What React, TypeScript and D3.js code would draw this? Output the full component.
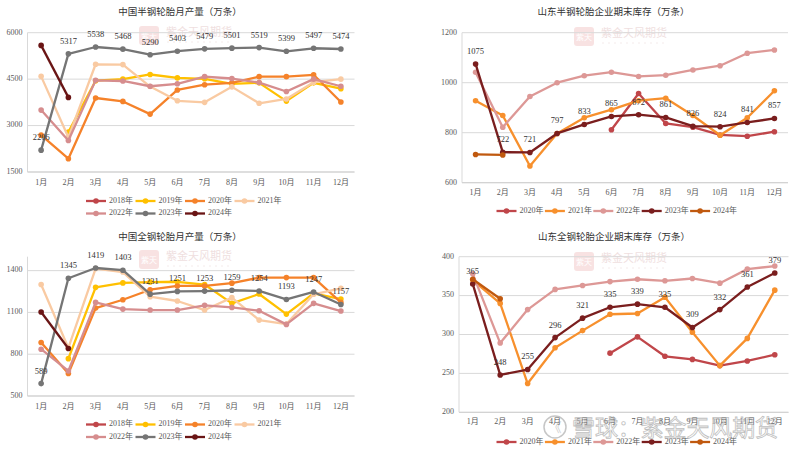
import React from 'react';
import * as d3 from 'd3';

const months = ['1月', '2月', '3月', '4月', '5月', '6月', '7月', '8月', '9月', '10月', '11月', '12月'];

// 中国半钢轮胎月产量
const semiProdYears = ['2018年', '2019年', '2020年', '2021年', '2022年', '2023年', '2024年'];
const semiProd2018: (number | null)[] = [null, null, null, null, null, null, null, null, null, null, null, null];
const semiProd2019: (number | null)[] = [null, 2790, 4450, 4500, 4650, 4540, 4510, 4350, 4380, 3790, 4380, 4190];
const semiProd2020: (number | null)[] = [2690, 1930, 3890, 3780, 3370, 4150, 4320, 4380, 4580, 4580, 4640, 3760];
const semiProd2021: (number | null)[] = [4590, 2620, 4980, 4970, 4260, 3800, 3750, 4250, 3720, 3860, 4400, 4500];
const semiProd2022: (number | null)[] = [3500, 2520, 4460, 4440, 4270, 4350, 4580, 4520, 4390, 4100, 4500, 4270];
const semiProd2023: (number | null)[] = [2206, 5317, 5538, 5468, 5290, 5403, 5479, 5501, 5519, 5399, 5497, 5474];
const semiProd2024: (number | null)[] = [5590, 3910, null, null, null, null, null, null, null, null, null, null];
const semiProdTicks = [1500, 3000, 4500, 6000];

// 山东半钢轮胎企业期末库存
const invYears = ['2020年', '2021年', '2022年', '2023年', '2024年'];
const semiInv2020: (number | null)[] = [null, null, null, null, null, 812, 957, 837, 822, 791, 786, 804];
const semiInv2021: (number | null)[] = [928, 869, 667, 797, 860, 892, 928, 938, 869, 790, 860, 968];
const semiInv2022: (number | null)[] = [1042, 822, 945, 1000, 1028, 1042, 1025, 1030, 1051, 1068, 1118, 1131];
const semiInv2023: (number | null)[] = [1075, 722, 721, 797, 833, 865, 872, 861, 826, 824, 841, 857];
const semiInv2024: (number | null)[] = [713, 711, null, null, null, null, null, null, null, null, null, null];
const semiInvTicks = [600, 800, 1000, 1200];

// 中国全钢轮胎月产量
const allProd2018: (number | null)[] = [null, null, null, null, null, null, null, null, null, null, null, null];
const allProd2019: (number | null)[] = [null, 768, 1280, 1312, 1318, 1320, 1300, 1165, 1232, 1088, 1236, 1196];
const allProd2020: (number | null)[] = [884, 661, 1131, 1191, 1263, 1290, 1290, 1310, 1350, 1350, 1350, 1172];
const allProd2021: (number | null)[] = [1300, 845, 1415, 1390, 1213, 1182, 1117, 1206, 1045, 1016, 1230, 1273];
const allProd2022: (number | null)[] = [836, 680, 1172, 1124, 1117, 1117, 1151, 1136, 1112, 1014, 1165, 1110];
const allProd2023: (number | null)[] = [589, 1345, 1419, 1403, 1231, 1251, 1253, 1259, 1254, 1193, 1247, 1157];
const allProd2024: (number | null)[] = [1103, 841, null, null, null, null, null, null, null, null, null, null];
const allProdTicks = [500, 800, 1100, 1400];

// 山东全钢轮胎企业期末库存
const allInv2020: (number | null)[] = [null, null, null, null, null, 276, 297, 272, 268, 260, 266, 274];
const allInv2021: (number | null)[] = [370, 340, 237, 283, 305, 326, 327, 348, 303, 260, 295, 357];
const allInv2022: (number | null)[] = [378, 289, 332, 358, 363, 368, 371, 369, 372, 366, 384, 388];
const allInv2023: (number | null)[] = [365, 248, 255, 296, 321, 335, 339, 335, 309, 332, 361, 379];
const allInv2024: (number | null)[] = [371, 346, null, null, null, null, null, null, null, null, null, null];
const allInvTicks = [200, 250, 300, 350, 400];

const prodColors = ['#c0464a', '#ffc000', '#f5822a', '#f9caa2', '#d68d8e', '#757575', '#6a1515'];
const invColors = ['#c0464a', '#f7902d', '#dd9896', '#7a1e1e', '#c0590f'];

const FONT = "'Liberation Serif', 'Noto Sans CJK SC', serif";

type Series = { name: string; values: (number | null)[]; color: string; labeled?: boolean };
type Cfg = {
  title: string; titleX: number; titleY: number;
  left: number; right: number; top: number; bottom: number;
  domain: [number, number]; ticks: number[];
  xLabelY: number;
  series: Series[];
  legendRows: number[][]; legendYs: number[]; legendX: number; legendStep: number;
  logoX: number; logoY: number;
};

function Panel({ cfg }: { cfg: Cfg }) {
  const x = d3.scalePoint<string>().domain(months).range([cfg.left, cfg.right]).padding(0.5);
  const y = d3.scaleLinear().domain(cfg.domain).range([cfg.bottom, cfg.top]);
  const line = d3
    .line<number | null>()
    .defined((d) => d != null)
    .x((_, i) => x(months[i]) as number)
    .y((d) => y(d as number));
  return (
    <g>
      <g opacity={0.4}>
        <rect x={cfg.logoX} y={cfg.logoY} width={20} height={19} rx={3} fill="#f0b8b8" />
        <text x={cfg.logoX + 10} y={cfg.logoY + 13} textAnchor="middle" fontSize={8} fill="#fff" fontFamily={FONT}>紫天</text>
        <text x={cfg.logoX + 27} y={cfg.logoY + 10} fontSize={11} fill="#d9b0b0" fontFamily={FONT}>紫金天风期货</text>
        <line x1={cfg.logoX + 28} x2={cfg.logoX + 90} y1={cfg.logoY + 16} y2={cfg.logoY + 16} stroke="#e6d0d0" strokeDasharray="2 4" />
      </g>
      <text x={cfg.titleX} y={cfg.titleY} textAnchor="middle" dominantBaseline="middle" fontSize={9.5} fill="#333" fontFamily={FONT}>
        {cfg.title}
      </text>
      {cfg.ticks.map((t) => (
        <g key={t}>
          <line x1={cfg.left} x2={cfg.right} y1={y(t)} y2={y(t)} stroke="#d9d9d9" strokeWidth={1} />
          <text x={cfg.left - 5} y={y(t)} textAnchor="end" dominantBaseline="middle" fontSize={8} fill="#595959" fontFamily={FONT}>
            {t}
          </text>
        </g>
      ))}
      <line x1={cfg.left} x2={cfg.left} y1={cfg.top} y2={cfg.bottom} stroke="#d9d9d9" strokeWidth={1} />
      <line x1={cfg.left} x2={cfg.right} y1={cfg.bottom} y2={cfg.bottom} stroke="#d0d0d0" strokeWidth={1} />
      {months.map((m) => (
        <text key={m} x={x(m)} y={cfg.xLabelY} textAnchor="middle" dominantBaseline="middle" fontSize={8} fill="#595959" fontFamily={FONT}>
          {m}
        </text>
      ))}
      {cfg.series.map((s) => (
        <g key={s.name}>
          <path d={line(s.values) || ''} fill="none" stroke={s.color} strokeWidth={2.3} strokeLinejoin="round" />
          {s.values.map((v, i) =>
            v == null ? null : <circle key={i} cx={x(months[i])} cy={y(v)} r={2.8} fill={s.color} />
          )}
        </g>
      ))}
      {cfg.series
        .filter((s) => s.labeled)
        .map((s) => (
          <g key={s.name + 'l'}>
            {s.values.map((v, i) =>
              v == null ? null : (
                <text key={i} x={x(months[i])} y={y(v) - 12} textAnchor="middle" dominantBaseline="middle" fontSize={8.5} fill="#333" fontFamily={FONT}>
                  {v}
                </text>
              )
            )}
          </g>
        ))}
      {cfg.legendRows.map((row, ri) =>
        row.map((si, k) => {
          const s = cfg.series[si];
          const lx = cfg.legendX + k * cfg.legendStep;
          const ly = cfg.legendYs[ri];
          return (
            <g key={s.name + 'lg'}>
              <line x1={lx} x2={lx + 20} y1={ly} y2={ly} stroke={s.color} strokeWidth={2.3} />
              <circle cx={lx + 10} cy={ly} r={2.8} fill={s.color} />
              <text x={lx + 23} y={ly} dominantBaseline="middle" fontSize={8} fill="#595959" fontFamily={FONT}>
                {s.name}
              </text>
            </g>
          );
        })
      )}
    </g>
  );
}

const prodData1 = [semiProd2018, semiProd2019, semiProd2020, semiProd2021, semiProd2022, semiProd2023, semiProd2024];
const prodData2 = [allProd2018, allProd2019, allProd2020, allProd2021, allProd2022, allProd2023, allProd2024];
const invData1 = [semiInv2020, semiInv2021, semiInv2022, semiInv2023, semiInv2024];
const invData2 = [allInv2020, allInv2021, allInv2022, allInv2023, allInv2024];

const mkProd = (data: (number | null)[][]): Series[] =>
  semiProdYears.map((n, i) => ({ name: n, values: data[i], color: prodColors[i], labeled: n === '2023年' }));
const mkInv = (data: (number | null)[][]): Series[] =>
  invYears.map((n, i) => ({ name: n, values: data[i], color: invColors[i], labeled: n === '2023年' }));

const panels: Cfg[] = [
  {
    title: '中国半钢轮胎月产量（万条）', titleX: 180, titleY: 13,
    left: 27.5, right: 354.5, top: 32.7, bottom: 172, domain: [1500, 6000], ticks: semiProdTicks,
    xLabelY: 183, series: mkProd(prodData1),
    legendRows: [[0, 1, 2, 3], [4, 5, 6]], legendYs: [201, 213.5], legendX: 86, legendStep: 49.5,
    logoX: 139, logoY: 26,
  },
  {
    title: '山东半钢轮胎企业期末库存（万条）', titleX: 613.5, titleY: 13,
    left: 462, right: 788, top: 32.7, bottom: 182.7, domain: [600, 1200], ticks: semiInvTicks,
    xLabelY: 193, series: mkInv(invData1),
    legendRows: [[0, 1, 2, 3, 4]], legendYs: [211], legendX: 496.5, legendStep: 48.4,
    logoX: 574, logoY: 27,
  },
  {
    title: '中国全钢轮胎月产量（万条）', titleX: 180, titleY: 238,
    left: 27.5, right: 354.5, top: 256.7, bottom: 396, domain: [500, 1500], ticks: allProdTicks,
    xLabelY: 407, series: mkProd(prodData2),
    legendRows: [[0, 1, 2, 3], [4, 5, 6]], legendYs: [424.5, 437], legendX: 86, legendStep: 49.5,
    logoX: 139, logoY: 250,
  },
  {
    title: '山东全钢轮胎企业期末库存（万条）', titleX: 614, titleY: 238,
    left: 459, right: 788.5, top: 256.7, bottom: 412.3, domain: [200, 400], ticks: allInvTicks,
    xLabelY: 422, series: mkInv(invData2),
    legendRows: [[0, 1, 2, 3, 4]], legendYs: [442], legendX: 496.5, legendStep: 48.4,
    logoX: 574, logoY: 252,
  },
];

export default function App() {
  return (
    <svg
      width={800}
      height={455}
      viewBox="0 0 800 455"
      style={{ position: 'absolute', left: 0, top: 0, background: '#fff' }}
    >
      <rect x={0} y={0} width={800} height={455} fill="#fff" />
      {panels.map((p) => (
        <Panel key={p.title} cfg={p} />
      ))}
      <g opacity={0.55}>
        <circle cx={555} cy={427} r={11} fill="none" stroke="#999" strokeWidth={1.5} />
        <text x={555} y={432} textAnchor="middle" fontSize={13} fill="#aaa" fontFamily={FONT}>《</text>
        <text
          x={572}
          y={436}
          fontSize={23}
          fill="#ffffff"
          stroke="#8c8c8c"
          strokeWidth={0.8}
          fontFamily={FONT}
          textLength={206}
          lengthAdjust="spacing"
        >
          雪球：紫金天风期货
        </text>
      </g>
    </svg>
  );
}
